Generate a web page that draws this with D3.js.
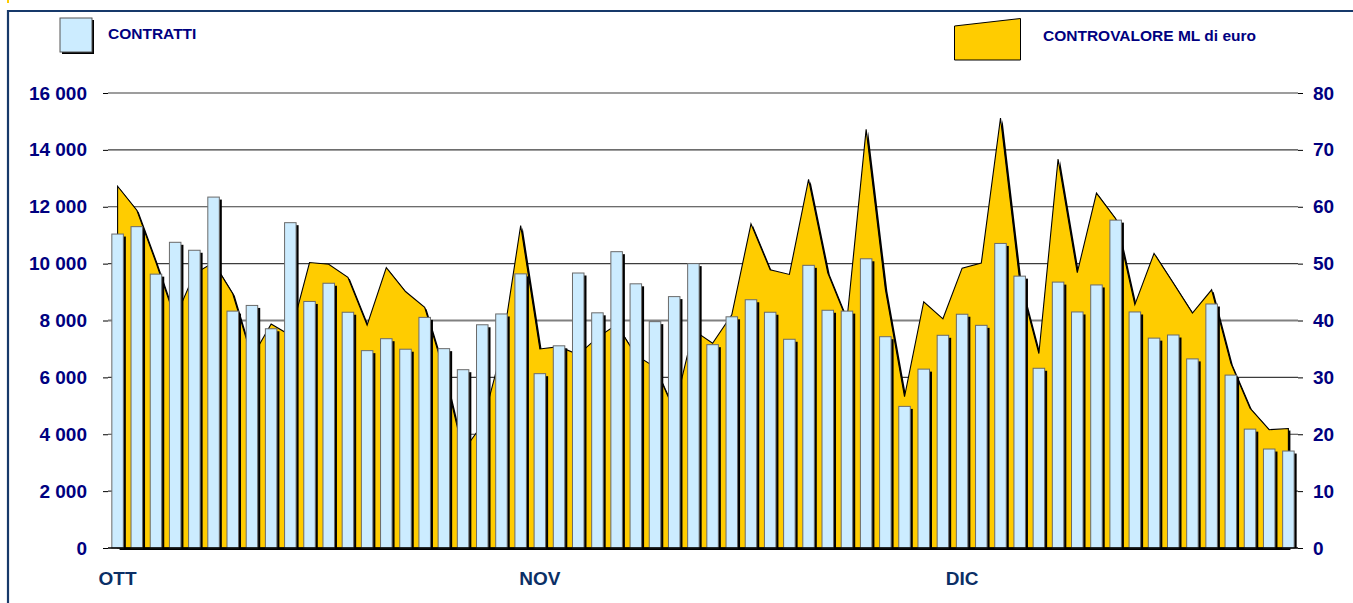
<!DOCTYPE html>
<html>
<head>
<meta charset="utf-8">
<script src="https://cdn.jsdelivr.net/npm/d3@7/dist/d3.min.js"></script>
<style>
  body { margin: 0; background: #fff; }
  svg { display: block; }
</style>
</head>
<body>
<div id="chart"></div>
<script>
// numero contratti per giornata (asse sinistro)
const contratti = [
  11040, 11300, 9630, 10750, 10470, 12340, 8330, 8530, 7710, 11440,
  8670, 9310, 8290, 6940, 7360, 6990, 8110, 7010, 6270, 7850,
  8230, 9640, 6130, 7110, 9670, 8270, 10420, 9290, 7960, 8840,
  10000, 7150, 8130, 8730, 8290, 7340, 9940, 8360, 8330, 10170,
  7430, 4980, 6290, 7480, 8220, 7830, 10710, 9560, 6320, 9350,
  8300, 9250, 11530, 8300, 7380, 7490, 6650, 8580, 6080, 4180,
  3480, 3410
]
// controvalore in ML di euro (asse destro)
const controvalore = [
  63.6, 59.4, 50.2, 40.4, 48.2, 50.2, 44.7, 33.5, 39.4, 37.4,
  50.2, 49.9, 47.6, 39.2, 49.3, 45.1, 42.3, 31.2, 17.0, 21.7,
  34.6, 56.7, 35.0, 35.4, 34.0, 37.0, 39.3, 33.9, 31.8, 24.2,
  38.3, 36.0, 41.0, 57.0, 48.9, 48.1, 64.8, 48.4, 40.1, 73.6,
  45.5, 26.6, 43.3, 40.3, 49.2, 50.1, 75.6, 47.0, 34.2, 68.4,
  48.4, 62.4, 57.9, 42.8, 51.8, 46.6, 41.3, 45.4, 32.5, 24.6,
  20.8, 21.0
]
const mesi = ['OTT', 'NOV', 'DIC']
const inizioMese = [0, 22, 44]
const tickSinistra = [0, 2000, 4000, 6000, 8000, 10000, 12000, 14000, 16000]
const tickDestra = [0, 10, 20, 30, 40, 50, 60, 70, 80]

const width = 1353
const height = 603
const font = 'Arial, "Liberation Sans", sans-serif'
const plot = { left: 108, right: 1298, top: 93, bottom: 548 }

const svg = d3.select('#chart').append('svg')
  .attr('width', width)
  .attr('height', height)

// cornice
svg.append('rect').attr('x', 7).attr('y', 0).attr('width', 2).attr('height', 3).attr('fill', '#FFCC00')
svg.append('path')
  .attr('d', `M8,${height} V11 H${width}`)
  .attr('fill', 'none')
  .attr('stroke', '#17396A')
  .attr('stroke-width', 2.2)

const x = d3.scaleBand()
  .domain(d3.range(contratti.length))
  .range([plot.left, plot.right])
  .paddingInner(0.4)
  .paddingOuter(0.2)

const yL = d3.scaleLinear().domain([0, 16000]).range([plot.bottom, plot.top])
const yR = d3.scaleLinear().domain([0, 80]).range([plot.bottom, plot.top])

const cx = i => x(i) + x.bandwidth() / 2

// griglia
svg.append('g')
  .selectAll('line')
  .data(tickSinistra.slice(1))
  .enter().append('line')
  .attr('x1', plot.left)
  .attr('x2', plot.right)
  .attr('y1', d => yL(d))
  .attr('y2', d => yL(d))
  .attr('stroke', d => d === 8000 ? '#808080' : '#3c3c3c')
  .attr('stroke-width', d => d === 8000 ? 2.2 : 1.1)

// area controvalore, con ombra
const area = d3.area()
  .x((d, i) => cx(i))
  .y0(yR(0))
  .y1(d => yR(d))

svg.append('path')
  .datum(controvalore)
  .attr('d', area)
  .attr('transform', 'translate(2,2)')
  .attr('fill', '#000')

svg.append('path')
  .datum(controvalore)
  .attr('d', area)
  .attr('fill', '#FFCC00')
  .attr('stroke', '#000')
  .attr('stroke-width', 1.1)
  .attr('stroke-linejoin', 'miter')

// barre contratti, con ombra
const bars = svg.append('g')
  .selectAll('g')
  .data(contratti)
  .enter().append('g')

bars.append('rect')
  .attr('x', (d, i) => x(i) + 2.5)
  .attr('y', d => yL(d) + 2.5)
  .attr('width', x.bandwidth())
  .attr('height', d => yL(0) - yL(d) - 2.5)
  .attr('fill', '#000')

bars.append('rect')
  .attr('x', (d, i) => x(i))
  .attr('y', d => yL(d))
  .attr('width', x.bandwidth())
  .attr('height', d => yL(0) - yL(d))
  .attr('fill', '#CCECFF')
  .attr('stroke', '#6a6a6a')
  .attr('stroke-width', 1)

// linea di base
svg.append('line')
  .attr('x1', plot.left)
  .attr('x2', plot.right)
  .attr('y1', plot.bottom)
  .attr('y2', plot.bottom)
  .attr('stroke', '#000')
  .attr('stroke-width', 1.6)

// assi
const styleAxis = g => {
  g.select('.domain').remove()
  g.selectAll('.tick line').attr('stroke', '#000')
  g.selectAll('.tick text')
    .attr('fill', '#000080')
    .attr('font-family', font)
    .attr('font-size', '19px')
    .attr('font-weight', 'bold')
}

svg.append('g')
  .attr('transform', `translate(${plot.left},0)`)
  .call(d3.axisLeft(yL)
    .tickValues(tickSinistra)
    .tickSize(5)
    .tickPadding(16)
    .tickFormat(d => d3.format(',')(d).replace(/,/g, ' ')))
  .call(styleAxis)

svg.append('g')
  .attr('transform', `translate(${plot.right},0)`)
  .call(d3.axisRight(yR)
    .tickValues(tickDestra)
    .tickSize(5)
    .tickPadding(10))
  .call(styleAxis)

// mesi
svg.append('g')
  .selectAll('text')
  .data(mesi)
  .enter().append('text')
  .attr('x', (d, i) => cx(inizioMese[i]))
  .attr('y', 585)
  .attr('text-anchor', 'middle')
  .attr('fill', '#0B2F66')
  .attr('font-family', font)
  .attr('font-size', '19px')
  .attr('font-weight', 'bold')
  .text(d => d)

// legenda
const legend = svg.append('g')

legend.append('rect')
  .attr('x', 62).attr('y', 20)
  .attr('width', 32).attr('height', 34)
  .attr('fill', '#000')
legend.append('rect')
  .attr('x', 60).attr('y', 18)
  .attr('width', 32).attr('height', 34)
  .attr('fill', '#CCECFF')
  .attr('stroke', '#555')
legend.append('text')
  .attr('x', 108).attr('y', 39)
  .attr('fill', '#000080')
  .attr('font-family', font)
  .attr('font-size', '15.5px')
  .attr('font-weight', 'bold')
  .text('CONTRATTI')

legend.append('path')
  .attr('d', 'M954.5,26 L1020.5,18.5 L1020.5,60 L954.5,60 Z')
  .attr('fill', '#FFCC00')
  .attr('stroke', '#000')
  .attr('stroke-width', 1)
legend.append('text')
  .attr('x', 1043).attr('y', 41)
  .attr('fill', '#000080')
  .attr('font-family', font)
  .attr('font-size', '15.5px')
  .attr('font-weight', 'bold')
  .text('CONTROVALORE ML di euro')
</script>
</body>
</html>
